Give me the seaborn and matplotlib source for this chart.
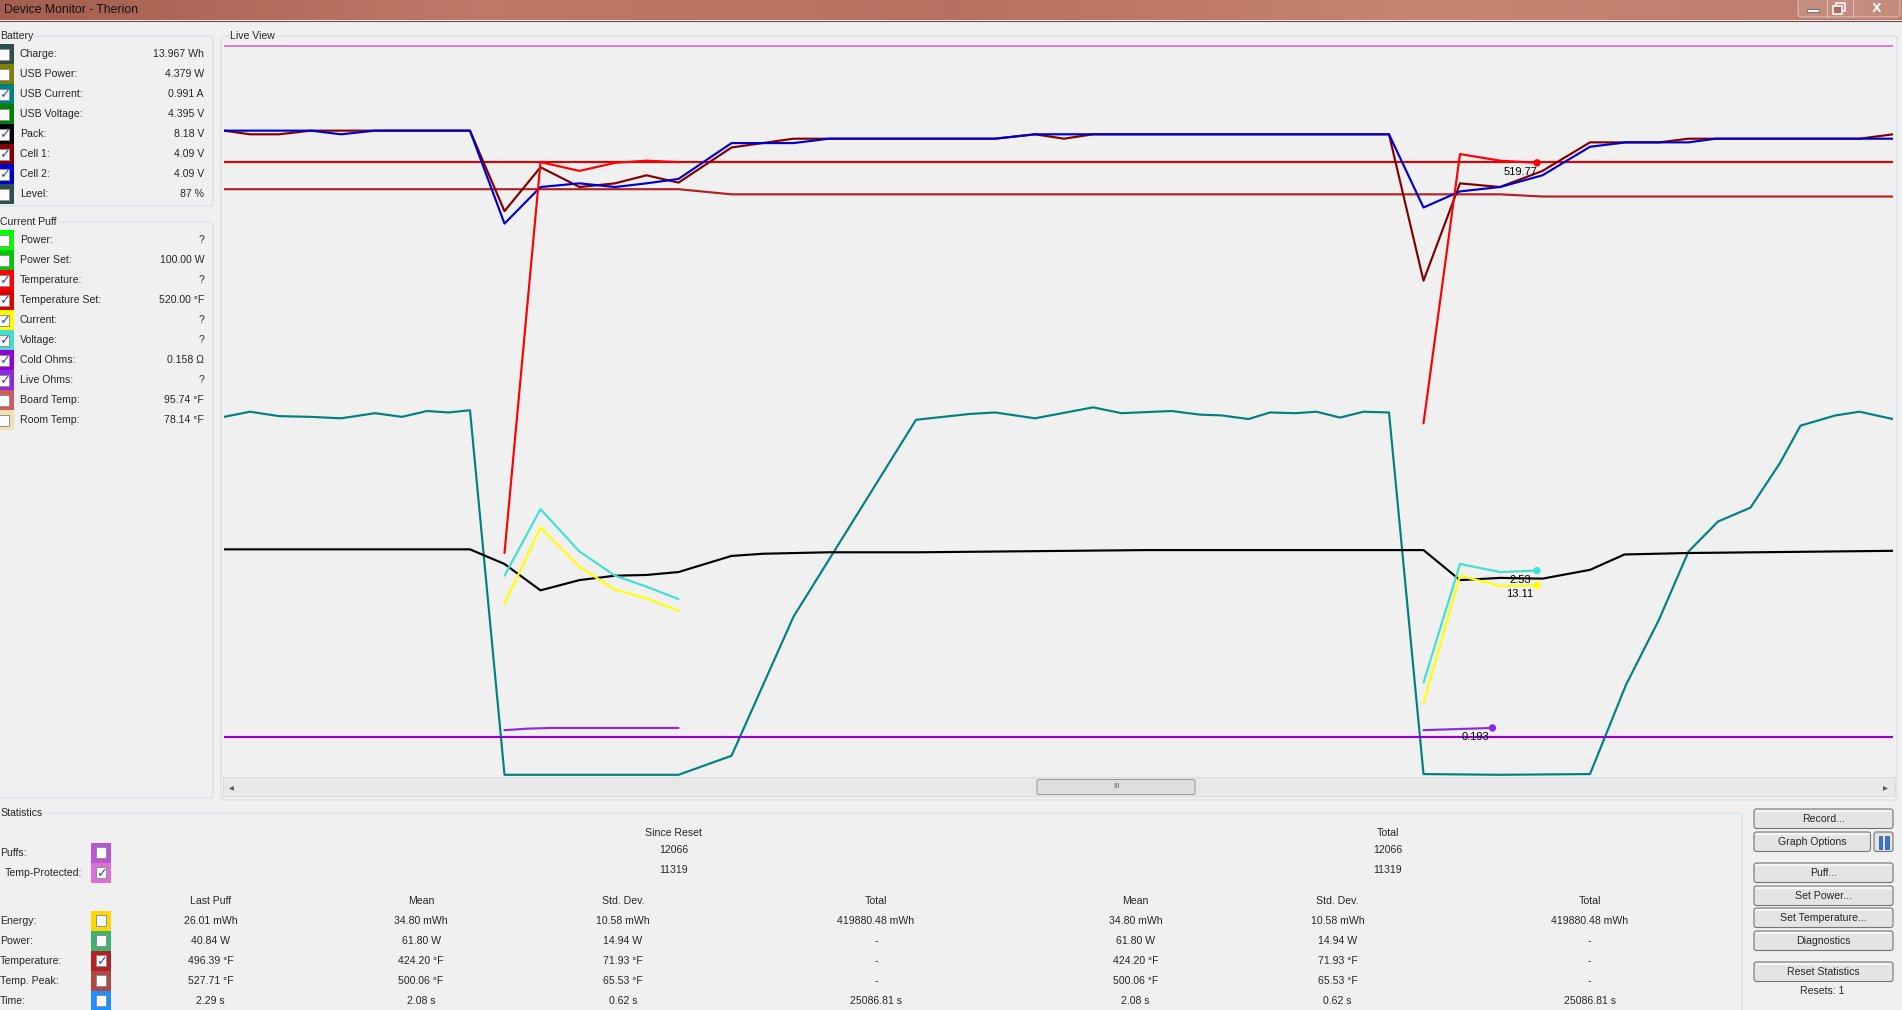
import matplotlib
matplotlib.use('Agg')
import numpy as np
import matplotlib.pyplot as plt
from matplotlib.patches import Rectangle, FancyBboxPatch
import seaborn as sns

# ---- live view traces: time (s) and level (% of graph height) ----
cell1_t = [0, 0.52, 1.10, 1.74, 4.92, 5.61, 6.33, 7.11, 7.82, 8.45, 9.09, 10.15, 11.39, 12.10,
           15.42, 16.22, 16.80, 17.38, 23.30, 23.99, 24.72, 25.52, 26.37, 27.32, 28.70, 29.29,
           32.71, 33.38]
cell1_v = [88.3, 87.8, 87.8, 88.3, 88.3, 77.3, 83.3, 80.6, 81.1, 82.2, 81.2, 86.0, 87.2, 87.2,
           87.2, 87.8, 87.2, 87.8, 87.8, 67.8, 81.1, 80.6, 82.8, 86.7, 86.7, 87.2, 87.2, 87.8]

cell2_t = [0, 1.74, 2.34, 3.02, 4.92, 5.61, 6.33, 7.11, 7.82, 8.45, 9.09, 10.15, 11.39, 12.10,
           15.42, 16.22, 23.30, 23.99, 24.72, 25.52, 26.37, 27.32, 28.04, 29.29, 29.84, 33.38]
cell2_v = [88.3, 88.3, 87.8, 88.3, 88.3, 75.6, 80.6, 81.1, 80.6, 81.1, 81.7, 86.6, 86.6, 87.2,
           87.2, 87.8, 87.8, 77.8, 80.0, 80.6, 82.2, 86.1, 86.7, 86.7, 87.2, 87.2]

usb_current_t = [0, 0.52, 1.10, 1.74, 2.34, 3.02, 3.56, 4.06, 4.49, 4.92, 5.61, 9.09, 10.15,
                 11.39, 13.84, 14.92, 15.42, 16.22, 17.38, 17.95, 18.95, 19.52, 19.95, 20.49,
                 20.92, 21.42, 21.85, 22.32, 22.79, 23.30, 23.99, 25.52, 27.32, 28.04, 28.70,
                 29.29, 29.88, 30.53, 31.12, 31.53, 32.23, 32.71, 33.38]
usb_current_v = [49.2, 49.9, 49.3, 49.2, 49.0, 49.7, 49.2, 50.0, 49.8, 50.1, 0.3, 0.3, 2.9,
                 21.9, 48.8, 49.6, 49.8, 49.0, 50.5, 49.7, 50.0, 49.5, 49.4, 48.9, 49.8, 49.7,
                 49.9, 49.1, 49.9, 49.8, 0.4, 0.3, 0.4, 12.6, 21.5, 30.8, 34.9, 36.8, 42.9,
                 48.0, 49.4, 49.9, 48.9]

pack_t = [0, 4.92, 5.61, 6.33, 7.11, 7.82, 8.45, 9.09, 10.15, 10.78, 12.10, 13.92, 18.44,
          23.30, 23.99, 24.72, 25.52, 26.37, 27.32, 28.01, 29.29, 33.38]
pack_v = [31.1, 31.1, 29.1, 25.5, 26.9, 27.5, 27.6, 28.0, 30.2, 30.5, 30.7, 30.7, 31.0,
          31.0, 31.0, 26.9, 27.2, 27.1, 28.3, 30.4, 30.6, 30.9]

# puff traces (two puffs in view)
temp_t = [[5.61, 6.33, 7.11, 7.82, 8.45, 9.09], [23.99, 24.72, 25.52, 26.26]]
temp_v = [[30.6, 84.0, 82.8, 83.9, 84.2, 84.0], [48.3, 85.1, 84.2, 83.9]]
volt_t = [[5.61, 6.33, 7.11, 7.82, 8.45, 9.09], [23.99, 24.72, 25.52, 26.26]]
volt_v = [[27.5, 36.6, 30.8, 27.5, 26.0, 24.3], [12.9, 29.1, 28.0, 28.2]]
curr_t = [[5.61, 6.33, 7.11, 7.82, 8.45, 9.09], [23.99, 24.72, 25.52, 26.26]]
curr_v = [[23.6, 34.1, 28.7, 25.6, 24.4, 22.7], [10.1, 27.5, 26.1, 26.2]]
live_ohms_t = [[5.61, 6.06, 6.52, 9.09], [23.99, 25.37]]
live_ohms_v = [[6.4, 6.6, 6.7, 6.7], [6.4, 6.7]]

temp_set_t = [0, 33.38]
temp_set_v = [84.0, 84.0]
cold_ohms_t = [0, 33.38]
cold_ohms_v = [5.45, 5.45]
stat_temp_t = [0, 9.09, 10.15, 25.52, 26.37, 33.38]
stat_temp_v = [80.3, 80.3, 79.6, 79.6, 79.3, 79.3]
temp_prot_t = [0, 33.38]
temp_prot_v = [99.9, 99.9]

readouts = ["519.77", "2.53", "13.11", "0.193"]   # temperature, voltage, current, live ohms

# ---- side panel ----
battery_labels = ["Charge:", "USB Power:", "USB Current:", "USB Voltage:", "Pack:", "Cell 1:", "Cell 2:", "Level:"]
battery_values = ["13.967 Wh", "4.379 W", "0.991 A", "4.395 V", "8.18 V", "4.09 V", "4.09 V", "87 %"]
battery_colors = ['#2f4f4f', '#808000', '#008080', '#008000', '#000000', '#800000', '#0000cd', '#2f4f4f']
battery_checked = [False, False, True, False, True, True, True, False]

puff_labels = ["Power:", "Power Set:", "Temperature:", "Temperature Set:", "Current:", "Voltage:",
               "Cold Ohms:", "Live Ohms:", "Board Temp:", "Room Temp:"]
puff_values = ["?", "100.00 W", "?", "520.00 °F", "?", "?", "0.158 Ω", "?", "95.74 °F", "78.14 °F"]
puff_colors = ['#00ff00', '#00c800', '#ff0000', '#d80000', '#ffff00', '#40e0d0', '#9400d3',
               '#8a2be2', '#cd5c5c', '#f5deb3']
puff_checked = [False, False, True, True, True, True, True, True, False, False]

# ---- statistics ----
count_labels = ["Puffs:", "Temp-Protected:"]
count_colors = ['#ba55d3', '#da70d6']
count_checked = [False, True]
count_since_reset = ["12066", "11319"]
count_total = ["12066", "11319"]

stat_labels = ["Energy:", "Power:", "Temperature:", "Temp. Peak:", "Time:"]
stat_colors = ['#ffd700', '#3cb371', '#b22222', '#b04646', '#1e90ff']
stat_checked = [False, False, True, False, False]
stat_headers = ["Last Puff", "Mean", "Std. Dev.", "Total", "Mean", "Std. Dev.", "Total"]
stat_last = ["26.01 mWh", "40.84 W", "496.39 °F", "527.71 °F", "2.29 s"]
stat_mean = ["34.80 mWh", "61.80 W", "424.20 °F", "500.06 °F", "2.08 s"]
stat_std = ["10.58 mWh", "14.94 W", "71.93 °F", "65.53 °F", "0.62 s"]
stat_total = ["419880.48 mWh", "-", "-", "-", "25086.81 s"]

button_labels = ["Record...", "Graph Options", "Puff...", "Set Power...", "Set Temperature...",
                 "Diagnostics", "Reset Statistics"]
resets = 1

# ---------------------------------------------------------------
sns.set_theme(style='white')
plt.rcParams['font.family'] = ['Liberation Sans', 'DejaVu Sans']
plt.rcParams['font.size'] = 7.6

BG = '#f0f0f0'
BORDER = '#d5dfe5'
fig = plt.figure(figsize=(19.02, 10.10), dpi=100, facecolor=BG)
ui = fig.add_axes([0, 0, 1, 1])
ui.set_xlim(0, 1902)
ui.set_ylim(1010, 0)
ui.axis('off')


def rect(x0, y0, x1, y1, fc, ec='none', lw=0.7, z=1):
    ui.add_patch(Rectangle((x0, y0), x1 - x0, y1 - y0, facecolor=fc, edgecolor=ec, lw=lw, zorder=z))


def group(x0, y0, x1, y1, title, tx):
    ui.add_patch(FancyBboxPatch((x0, y0), x1 - x0, y1 - y0, boxstyle='round,pad=0,rounding_size=3',
                                facecolor='none', edgecolor=BORDER, lw=0.8, zorder=1))
    ui.text(tx, y0, title, ha='left', va='center', zorder=2,
            bbox=dict(facecolor=BG, edgecolor='none', pad=0.6))


def checkbox(x0, y, color, checked, w=14, sq=(-1, 9)):
    rect(x0, y - 10, x0 + w, y + 10, color, z=2)
    rect(x0 + sq[0], y - 5.5, x0 + sq[1], y + 5.5, '#fbfbfb', '#8e8f8f', z=3)
    if checked:
        ui.text(x0 + (sq[0] + sq[1]) / 2 + 0.5, y + 0.5, '✓', ha='center', va='center', fontsize=9.5,
                color='#3e5296', family=['DejaVu Sans'], zorder=4)


# title bar
stops = np.array([[0.64, 0.37, 0.31], [0.75, 0.47, 0.41], [0.72, 0.44, 0.38],
                  [0.78, 0.52, 0.45], [0.74, 0.49, 0.43]])
xs = np.linspace(0, 1, 400)
grad = np.stack([np.interp(xs, np.linspace(0, 1, len(stops)), stops[:, k]) for k in range(3)], axis=-1)
ui.imshow(grad[None, :, :], extent=[0, 1902, 20, 0], aspect='auto', zorder=0)
ui.plot([0, 1902], [20.5, 20.5], color='#6e4a44', lw=0.8, zorder=1)
ui.text(4, 10, "Device Monitor - Therion", ha='left', va='center', fontsize=8.8, color='#101010', zorder=2)
ui.add_patch(FancyBboxPatch((1798, -3), 102, 20, boxstyle='round,pad=0,rounding_size=3',
                            facecolor=(1, 1, 1, 0.12), edgecolor=(1, 1, 1, 0.45), lw=0.8, zorder=1))
for xb in (1827, 1853):
    ui.plot([xb, xb], [0, 17], color=(1, 1, 1, 0.45), lw=0.8, zorder=2)
rect(1807, 9, 1819, 12, '#f4f4f4', '#505050', lw=0.5, z=3)
rect(1836, 3, 1845, 11, 'none', '#f4f4f4', lw=1.2, z=3)
rect(1833, 6, 1842, 14, '#a07068', '#f4f4f4', lw=1.2, z=3)
ui.text(1877, 8.5, 'X', ha='center', va='center', fontsize=9, fontweight='bold', color='#f4f4f4',
        family=['DejaVu Sans'], zorder=3)

# side panel
group(-4, 36, 213, 206, "Battery", 0)
for i, (lab, val, col, chk) in enumerate(zip(battery_labels, battery_values, battery_colors, battery_checked)):
    y = 54.3 + 20 * i
    checkbox(0, y, col, chk)
    ui.text(20, y, lab, ha='left', va='center', zorder=3)
    ui.text(204, y, val, ha='right', va='center', zorder=3)

group(-4, 222, 213, 798, "Current Puff", 0)
for i, (lab, val, col, chk) in enumerate(zip(puff_labels, puff_values, puff_colors, puff_checked)):
    y = 240 + 20 * i
    checkbox(0, y, col, chk)
    ui.text(20, y, lab, ha='left', va='center', zorder=3)
    ui.text(204, y, val, ha='right', va='center', zorder=3)

# live view frame and scrollbar
group(221, 36, 1897, 800, "Live View", 230)
rect(223, 777, 1895, 796, '#e8e8e8', '#d9d9d9', lw=0.6, z=1)
ui.add_patch(FancyBboxPatch((1037, 779.5), 158, 15, boxstyle='round,pad=0,rounding_size=2',
                            facecolor='#dedede', edgecolor='#979797', lw=0.7, zorder=2))
ui.text(1116, 787, 'III', ha='center', va='center', fontsize=5.5, color='#555555', zorder=3)
ui.text(231, 787, '◂', ha='center', va='center', fontsize=7, color='#5a5a5a', family=['DejaVu Sans'], zorder=3)
ui.text(1885, 787, '▸', ha='center', va='center', fontsize=7, color='#5a5a5a', family=['DejaVu Sans'], zorder=3)

# statistics
group(-4, 813, 1742, 1030, "Statistics", 0)
ui.text(673.7, 832.7, "Since Reset", ha='center', va='center', zorder=3)
ui.text(1388, 832.7, "Total", ha='center', va='center', zorder=3)
for i, (lab, col, chk, a, b) in enumerate(zip(count_labels, count_colors, count_checked,
                                              count_since_reset, count_total)):
    y = 852.7 + 20 * i
    checkbox(91, y, col, chk, w=20, sq=(5, 15))
    ui.text(0 if i == 0 else 5, y, lab, ha='left', va='center', zorder=3)
    ui.text(673.7, y - 2.5, a, ha='center', va='center', zorder=3)
    ui.text(1388, y - 2.5, b, ha='center', va='center', zorder=3)

col_x = [210.7, 421, 622.8, 875.9, 1135.7, 1337.5, 1589.7]
for cx, h in zip(col_x, stat_headers):
    ui.text(cx, 900.7, h, ha='center', va='center', zorder=3)
table = list(zip(stat_last, stat_mean, stat_std, stat_total, stat_mean, stat_std, stat_total))
for i, (lab, col, chk) in enumerate(zip(stat_labels, stat_colors, stat_checked)):
    y = 920.7 + 20 * i
    checkbox(91, y, col, chk, w=20, sq=(5, 15))
    ui.text(0, y, lab, ha='left', va='center', zorder=3)
    for cx, v in zip(col_x, table[i]):
        ui.text(cx, y, v, ha='center', va='center', zorder=3)

# buttons
button_y = [809, 832, 863, 886, 908, 931, 962]
for lab, y0 in zip(button_labels, button_y):
    x1 = 1870.5 if lab == "Graph Options" else 1893
    ui.add_patch(FancyBboxPatch((1754, y0), x1 - 1754, 19.5, boxstyle='round,pad=0,rounding_size=2.5',
                                facecolor='#e4e4e4', edgecolor='#747474', lw=0.8, zorder=2))
    ui.plot([1756, x1 - 2], [y0 + 2, y0 + 2], color='#f6f6f6', lw=1.5, zorder=3)
    ui.text((1754 + x1) / 2, y0 + 10, lab, ha='center', va='center', zorder=4)
ui.add_patch(FancyBboxPatch((1874, 832), 19, 19.5, boxstyle='round,pad=0,rounding_size=2.5',
                            facecolor='#e4e4e4', edgecolor='#747474', lw=0.8, zorder=2))
rect(1878.5, 835.5, 1882, 848.5, '#3c74d4', '#1f4aa0', lw=0.5, z=3)
rect(1885, 835.5, 1888.5, 848.5, '#3c74d4', '#1f4aa0', lw=0.5, z=3)
ui.text(1822, 991, f"Resets: {resets}", ha='center', va='center', zorder=3)

# ---- the live graph ----
ax = fig.add_axes([224 / 1902, (1010 - 777) / 1010, (1893 - 224) / 1902, (777 - 37.68) / 1010])
ax.set_xlim(0, 33.38)
ax.set_ylim(0, 101)
ax.axis('off')
ax.patch.set_alpha(0)

LW = 1.55


def trace(t, v, color, lw=LW):
    sns.lineplot(x=t, y=v, ax=ax, color=color, lw=lw, sort=False, estimator=None)


trace(temp_prot_t, temp_prot_v, '#da70d6', lw=1.3)
trace(stat_temp_t, stat_temp_v, '#b22222')
trace(temp_set_t, temp_set_v, '#e00000')
trace(usb_current_t, usb_current_v, '#008080')
trace(pack_t, pack_v, '#000000')
trace(cell1_t, cell1_v, '#800000')
trace(cell2_t, cell2_v, '#0000cd')
trace(cold_ohms_t, cold_ohms_v, '#9400d3')

puff_series = [(temp_t, temp_v, '#ff0000'), (volt_t, volt_v, '#40e0d0'),
               (curr_t, curr_v, '#ffff00'), (live_ohms_t, live_ohms_v, '#8a2be2')]
for (ts, vs, col), txt in zip(puff_series, readouts):
    for t, v in zip(ts, vs):
        trace(t, v, col)
    tl, vl = ts[-1][-1], vs[-1][-1]
    sns.scatterplot(x=[tl], y=[vl], ax=ax, color=col, s=28, edgecolor='none', zorder=5)
    ax.annotate(txt, (tl, vl), xytext=(-17, -9), textcoords='offset pixels', ha='center',
                va='center', fontsize=8, color='#000000', zorder=6)

fig.savefig('out.png', dpi=100, facecolor=BG)
